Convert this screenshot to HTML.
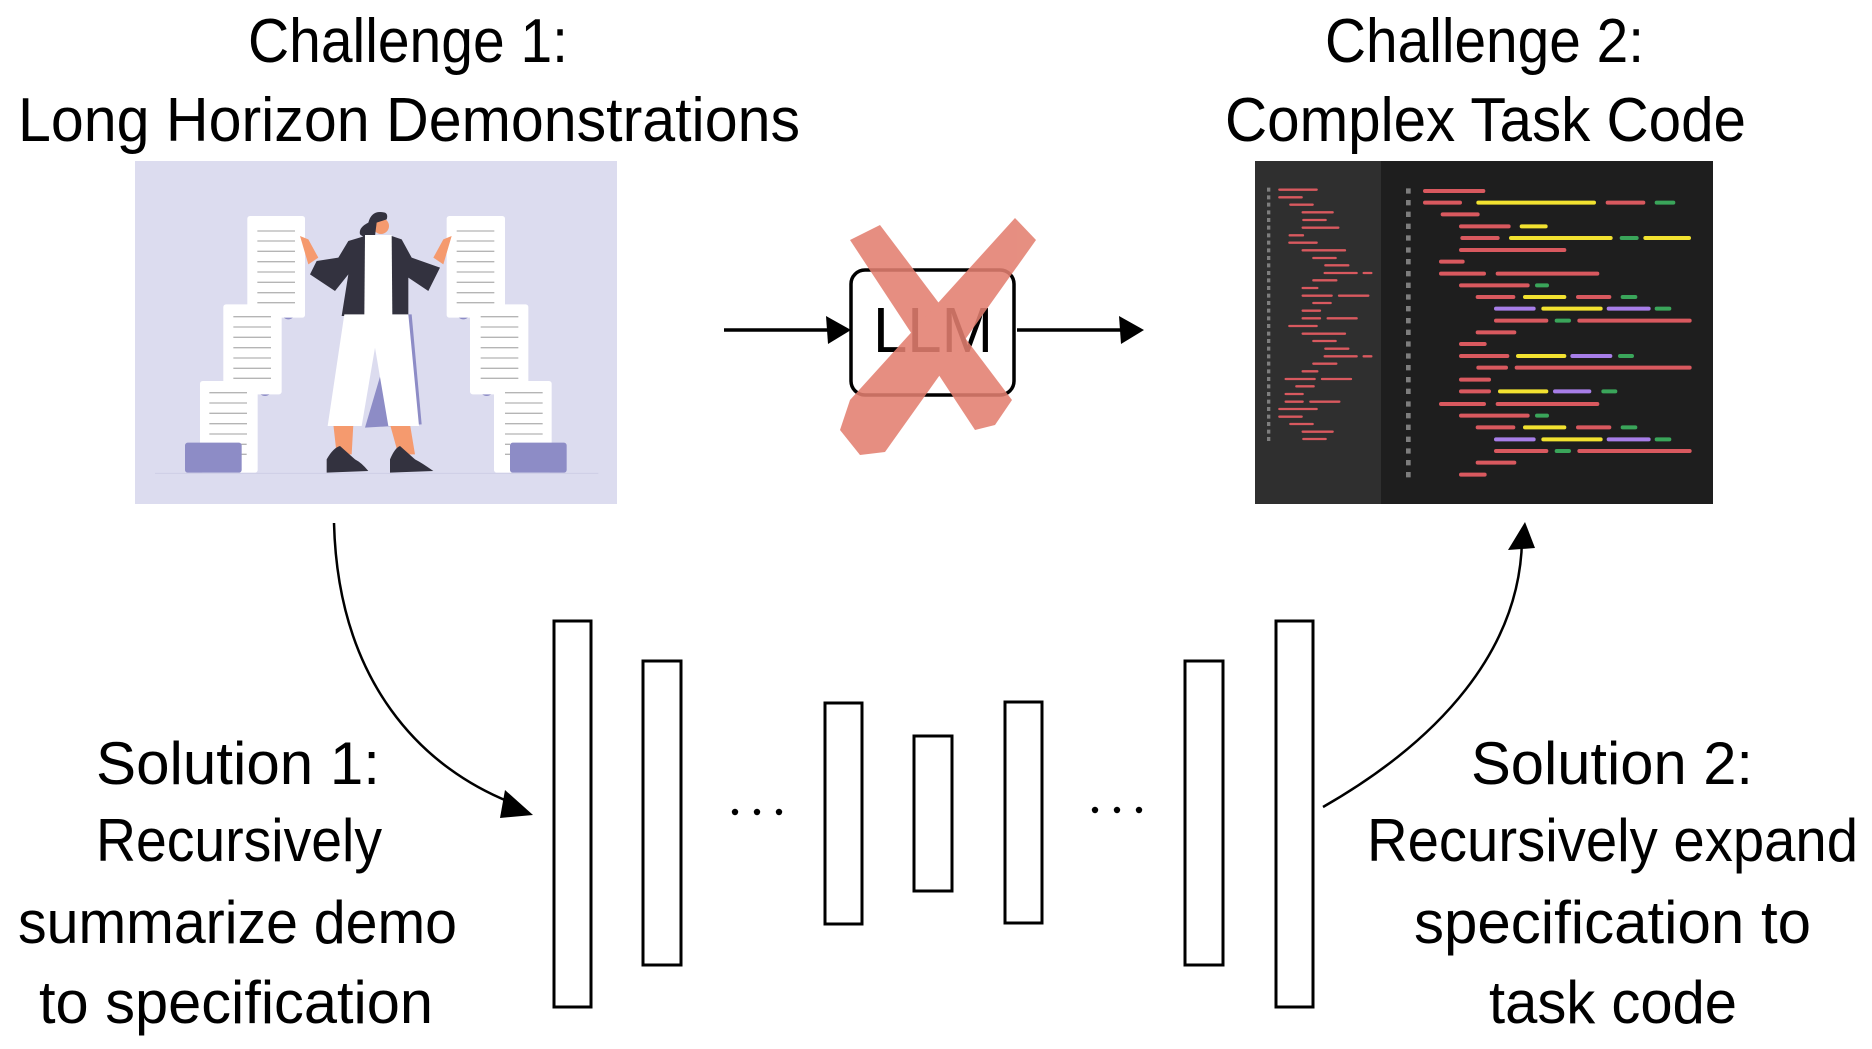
<!DOCTYPE html>
<html><head><meta charset="utf-8"><style>
html,body{margin:0;padding:0;background:#fff;}
svg{display:block;}
text{font-family:"Liberation Sans",sans-serif;fill:#000;}
</style></head><body>
<svg width="1872" height="1049" viewBox="0 0 1872 1049" xmlns="http://www.w3.org/2000/svg">
<text x="248" y="62" font-size="62" textLength="320" lengthAdjust="spacingAndGlyphs">Challenge 1:</text>
<text x="18" y="141" font-size="62" textLength="782" lengthAdjust="spacingAndGlyphs">Long Horizon Demonstrations</text>
<text x="1325" y="62" font-size="62" textLength="319" lengthAdjust="spacingAndGlyphs">Challenge 2:</text>
<text x="1225" y="141" font-size="62" textLength="521" lengthAdjust="spacingAndGlyphs">Complex Task Code</text>

<text x="96" y="784" font-size="60" textLength="284" lengthAdjust="spacingAndGlyphs">Solution 1:</text>
<text x="96" y="861" font-size="60" textLength="286" lengthAdjust="spacingAndGlyphs">Recursively</text>
<text x="18" y="943" font-size="60" textLength="439" lengthAdjust="spacingAndGlyphs">summarize demo</text>
<text x="39" y="1023" font-size="60" textLength="394" lengthAdjust="spacingAndGlyphs">to specification</text>
<text x="1471" y="784" font-size="60" textLength="282" lengthAdjust="spacingAndGlyphs">Solution 2:</text>
<text x="1367" y="861" font-size="60" textLength="491" lengthAdjust="spacingAndGlyphs">Recursively expand</text>
<text x="1414" y="943" font-size="60" textLength="397" lengthAdjust="spacingAndGlyphs">specification to</text>
<text x="1489" y="1023" font-size="60" textLength="248" lengthAdjust="spacingAndGlyphs">task code</text>

<g fill="#fff" stroke="#000" stroke-width="3">
<rect x="554" y="621" width="37" height="386"/>
<rect x="643" y="661" width="38" height="304"/>
<rect x="825" y="703" width="37" height="221"/>
<rect x="914" y="736" width="38" height="155"/>
<rect x="1005" y="702" width="37" height="221"/>
<rect x="1185" y="661" width="38" height="304"/>
<rect x="1276" y="621" width="37" height="386"/>
</g>
<g fill="#000">
<circle cx="735" cy="812" r="3.2"/><circle cx="757" cy="812" r="3.2"/><circle cx="779" cy="812" r="3.2"/>
<circle cx="1095" cy="810" r="3.2"/><circle cx="1117" cy="810" r="3.2"/><circle cx="1139" cy="810" r="3.2"/>
</g>

<path d="M334,523 C338,680 420,770 520,806" fill="none" stroke="#000" stroke-width="2.5"/>
<polygon points="533,815 505,790 500,818" fill="#000"/>
<path d="M1323,807 C1440,740 1520,650 1522,540" fill="none" stroke="#000" stroke-width="2.5"/>
<polygon points="1525,522 1508,550 1535,548" fill="#000"/>

<line x1="724" y1="330" x2="836" y2="330" stroke="#000" stroke-width="3.5"/>
<polygon points="851,330 826,316 828,344" fill="#000"/>
<line x1="1017" y1="330" x2="1128" y2="330" stroke="#000" stroke-width="3.5"/>
<polygon points="1144,330 1119,316 1121,344" fill="#000"/>
<rect x="851" y="270" width="163" height="125" rx="14" fill="#fff" stroke="#000" stroke-width="3.5"/>
<text x="873" y="352" font-size="64" textLength="120" lengthAdjust="spacingAndGlyphs">LLM</text>
<g fill="#e37f70" opacity="0.88">
<polygon points="850,240 880,225 1012,400 995,425 975,430"/>
<polygon points="1015,218 1036,240 885,452 860,455 840,430 850,400"/>
</g>

<svg x="135" y="161" width="482" height="343" viewBox="0 0 1446 1029">
<rect width="1446" height="1029" fill="#dcdcef"/>
<line x1="60" y1="937" x2="1390" y2="937" stroke="#cfcfe6" stroke-width="3"/>
<g fill="#8d8cc6">
<circle cx="460" cy="455" r="20"/><circle cx="390" cy="685" r="20"/>
<circle cx="985" cy="455" r="20"/><circle cx="1055" cy="685" r="20"/>
<polygon points="790,460 830,460 860,790 690,800"/>
</g>
<g fill="#fff">
<rect x="337" y="165" width="173" height="305" rx="8"/>
<rect x="265" y="430" width="175" height="270" rx="8"/>
<rect x="195" y="660" width="173" height="275" rx="8"/>
<rect x="935" y="165" width="175" height="305" rx="8"/>
<rect x="1005" y="430" width="175" height="270" rx="8"/>
<rect x="1077" y="660" width="173" height="275" rx="8"/>
</g>
<g stroke="#b5b5b5" stroke-width="4">
<path d="M367,210h113M367,240h113M367,271h113M367,302h113M367,333h113M367,364h113M367,395h113M367,425h113"/>
<path d="M295,467h113M295,498h113M295,529h113M295,560h113M295,591h113M295,622h113M295,652h113"/>
<path d="M223,695h113M223,726h113M223,757h113M223,788h113M223,819h113M315,850h20M315,880h20"/>
<path d="M965,210h113M965,240h113M965,271h113M965,302h113M965,333h113M965,364h113M965,395h113M965,425h113"/>
<path d="M1037,467h113M1037,498h113M1037,529h113M1037,560h113M1037,591h113M1037,622h113M1037,652h113"/>
<path d="M1110,695h113M1110,726h113M1110,757h113M1110,788h113M1110,819h113M1110,850h15M1110,880h15"/>
</g>
<g fill="#8d8cc6">
<rect x="150" y="845" width="170" height="90" rx="8"/>
<rect x="1125" y="845" width="170" height="90" rx="8"/>
</g>
<g fill="#f59a6e">
<polygon points="595,790 655,790 650,880 605,880"/>
<polygon points="765,790 825,790 840,880 790,880"/>
<polygon points="495,225 520,235 550,290 520,310"/>
<polygon points="950,225 925,235 895,290 925,310"/>
<circle cx="738" cy="195" r="24"/>
</g>
<g fill="#33323f">
<path d="M575,895 q20,-35 40,-40 l45,40 q20,10 40,35 l-125,5z"/>
<path d="M765,895 q15,-35 30,-40 l45,40 q20,10 55,35 l-130,5z"/>
<polygon points="640,240 690,225 770,225 800,235 830,290 915,320 880,390 820,350 820,465 620,465 640,340 600,390 525,340 545,300 610,290"/>
<path d="M700,185 q10,-40 50,-30 q10,5 5,20 l-30,10 l-5,40 q-30,10 -45,-5 q-5,-20 25,-35z"/>
</g>
<g fill="#fff">
<polygon points="690,222 770,222 772,465 688,465"/>
<polygon points="628,460 820,460 852,795 760,795 720,560 680,795 578,795"/>
</g>
</svg>

<svg x="1255" y="161" width="458" height="343" viewBox="45 33 1374 1029">
<rect x="45" y="33" width="1374" height="1029" fill="#1e1e1e"/>
<rect x="45" y="33" width="378" height="1029" fill="#2f2f2f"/>
<g stroke="#7e7e7e" stroke-width="14">
<path d="M505,115v16M505,150v16M505,185v16M505,221v16M505,256v16M505,292v16M505,327v16M505,363v16M505,398v16M505,433v16M505,468v16M505,504v16M505,539v16M505,574v16M505,610v16M505,645v16M505,681v16M505,716v16M505,754v16M505,789v16M505,824v16M505,860v16M505,895v16M505,930v16M505,966v16"/>
</g>
<g stroke="#7e7e7e" stroke-width="10">
<path d="M86,113v12M86,136v12M86,158v12M86,181v12M86,204v12M86,227v12M86,250v12M86,272v12M86,295v12M86,318v12M86,340v12M86,363v12M86,385v12M86,408v12M86,431v12M86,453v12M86,476v12M86,499v12M86,522v12M86,545v12M86,567v12M86,590v12M86,613v12M86,635v12M86,658v12M86,681v12M86,703v12M86,726v12M86,749v12M86,771v12M86,794v12M86,816v12M86,839v12M86,861v12"/>
</g>
<g stroke-linecap="round" stroke-width="12" fill="none">
<path stroke="#d9595f" d="M555,123H730M555,158H660M1103,158H1210M608,193H713M663,229H806M667,264H773M663,300H973M603,335H668M603,371H732M773,371H1072M663,406H863M713,441H820M1014,441H1108M768,512H919M1018,512H1349M713,547H823M663,582H734M663,618H802M715,653H798M830,653H1349M663,689H747M663,724H747M603,762H732M773,762H1072M663,797H863M713,832H820M1014,832H1108M768,903H919M1018,903H1349M713,938H823M663,974H734"/>
<path stroke="#f2e230" d="M715,158H1062M845,229H917M813,264H1112M1216,264H1347M855,441H973M910,476H1082M834,618H973M780,724H919M855,832H973M910,868H1082"/>
<path stroke="#3aa55a" d="M1250,158H1300M1145,264H1190M891,406H921M1148,441H1186M1250,476H1288M950,512H987M1140,618H1176M1090,724H1126M891,797H921M1148,832H1186M1250,868H1288M950,903H987"/>
<path stroke="#a77ee8" d="M768,476H881M1106,476H1226M997,618H1111M945,724H1048M768,868H881M1106,868H1226"/>
</g>
<g stroke-linecap="round" stroke-width="7" fill="none" stroke="#d9595f">
<path d="M118,119H230M118,142H185M151,164H218M188,187H278M190,210H257M188,233H295M149,256H189M148,278H230M188,301H315M220,324H287M256,346H325M254,369H350M371,369H394M220,391H289M188,414H232M188,437H275M297,437H385M220,459H272M188,482H240M188,505H240M263,505H350M148,528H230M188,551H315M220,573H287M256,596H325M254,619H350M371,619H394M220,641H289M188,664H232M137,687H224M246,687H333M169,709H221M137,732H188M137,755H188M211,755H298M118,777H230M118,800H185M151,822H218M188,845H278M190,867H257"/>
</g>
</svg>
</svg>
</body></html>
